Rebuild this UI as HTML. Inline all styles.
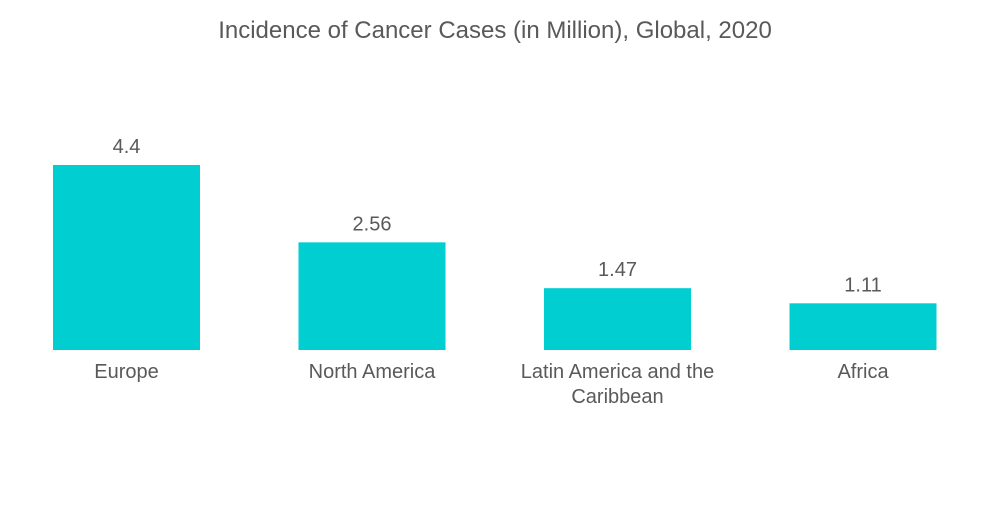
<!DOCTYPE html>
<html><head><meta charset="utf-8"><style>
body{margin:0;background:#fff;}
svg text{font-family:"Liberation Sans",sans-serif;fill:#595959;}
</style></head><body>
<svg id="chart" width="1000" height="504">
<text x="495" y="38" text-anchor="middle" font-size="24">Incidence of Cancer Cases (in Million), Global, 2020</text>
<g id="bars"></g>
</svg>
<script>
const categories=[["Europe"],["North America"],["Latin America and the","Caribbean"],["Africa"]];
const values=[4.4,2.56,1.47,1.11];
const labels=["4.4","2.56","1.47","1.11"];
const baseY=350, pxPerUnit=42.05, x0=53, step=245.5, bw=147;
const y=v=>baseY-v*pxPerUnit;
const g=document.getElementById('bars');
const ns="http://www.w3.org/2000/svg";
values.forEach((v,i)=>{
  const x=x0+i*step;
  const r=document.createElementNS(ns,'rect');
  r.setAttribute('x',x);r.setAttribute('y',y(v));r.setAttribute('width',bw);r.setAttribute('height',baseY-y(v));r.setAttribute('fill','#00CED1');
  
  
  g.appendChild(r);
  const t=document.createElementNS(ns,'text');
  t.setAttribute('x',x+bw/2);t.setAttribute('y',y(v)-12);t.setAttribute('text-anchor','middle');t.setAttribute('font-size','20');
  t.textContent=labels[i];
  
  
  g.appendChild(t);
  categories[i].forEach((line,j)=>{
    const c=document.createElementNS(ns,'text');
    c.setAttribute('x',x+bw/2);c.setAttribute('y',378+j*25);c.setAttribute('text-anchor','middle');c.setAttribute('font-size','20');
    c.textContent=line;
    
    
    g.appendChild(c);
  });
});
</script>
</body></html>
